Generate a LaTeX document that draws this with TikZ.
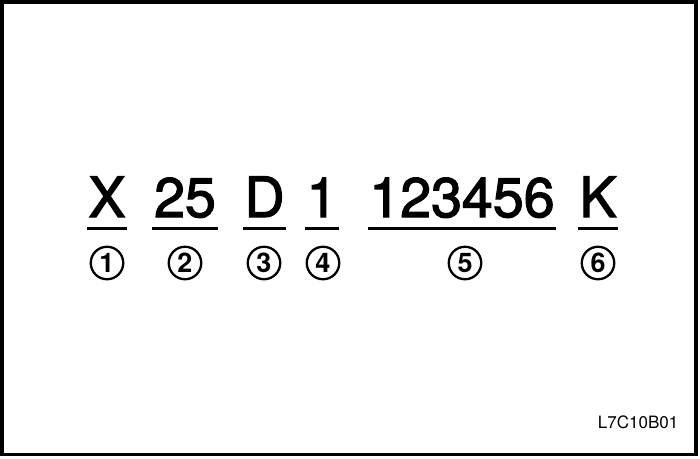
\documentclass[tikz,border=0pt]{standalone}
\usepackage{fontspec}
\setmainfont{TeX Gyre Heros}
\newfontfamily\heavyfont[FakeBold=2.2]{TeX Gyre Heros}
\begin{document}
\begin{tikzpicture}[x=1pt,y=-1pt,
  part/.style={anchor=base,inner xsep=1.5pt,inner ysep=0pt,font=\heavyfont\fontsize{55.5}{60}\selectfont},
  num/.style={circle,draw,line width=2.3pt,minimum size=32.5pt,inner sep=0pt,font=\fontsize{27}{30}\selectfont\bfseries},
  uline/.style={line width=3pt}]
\useasboundingbox (0,0) rectangle (700,458);
\draw[line width=3.6pt] (1.8,2) rectangle (696,454.5);
% the code, part by part
\node[part] (px) at (107,217) {X};
\node[part] (p25) at (185,217) {25};
\node[part] (pd) at (264.5,217) {D};
\node[part] (p1) at (322,217) {1};
\node[part] (pser) at (462,217) {123456};
\node[part] (pk) at (598,217) {K};
% lines under the parts
\draw[uline] ([yshift=-11.5pt]px.base west) -- ([yshift=-11.5pt]px.base east);
\draw[uline] ([yshift=-11.5pt]p25.base west) -- ([yshift=-11.5pt]p25.base east);
\draw[uline] ([yshift=-11.5pt]pd.base west) -- ([yshift=-11.5pt]pd.base east);
\draw[uline] ([yshift=-11.5pt]p1.base west) -- ([yshift=-11.5pt]p1.base east);
\draw[uline] ([yshift=-11.5pt]pser.base west) -- ([yshift=-11.5pt]pser.base east);
\draw[uline] ([yshift=-11.5pt]pk.base west) -- ([yshift=-11.5pt]pk.base east);
% circled numbers
\node[num] (n1) at (107,263) {1};
\node[num] (n2) at (185,263) {2};
\node[num] (n3) at (264,263) {3};
\node[num] (n4) at (323,263) {4};
\node[num] (n5) at (465,263) {5};
\node[num] (n6) at (598,263) {6};
% figure code
\node[anchor=base east,inner sep=0pt,font=\fontsize{17}{19}\selectfont] (fig) at (678.5,428.5) {L7C10B01};
\end{tikzpicture}
\end{document}
